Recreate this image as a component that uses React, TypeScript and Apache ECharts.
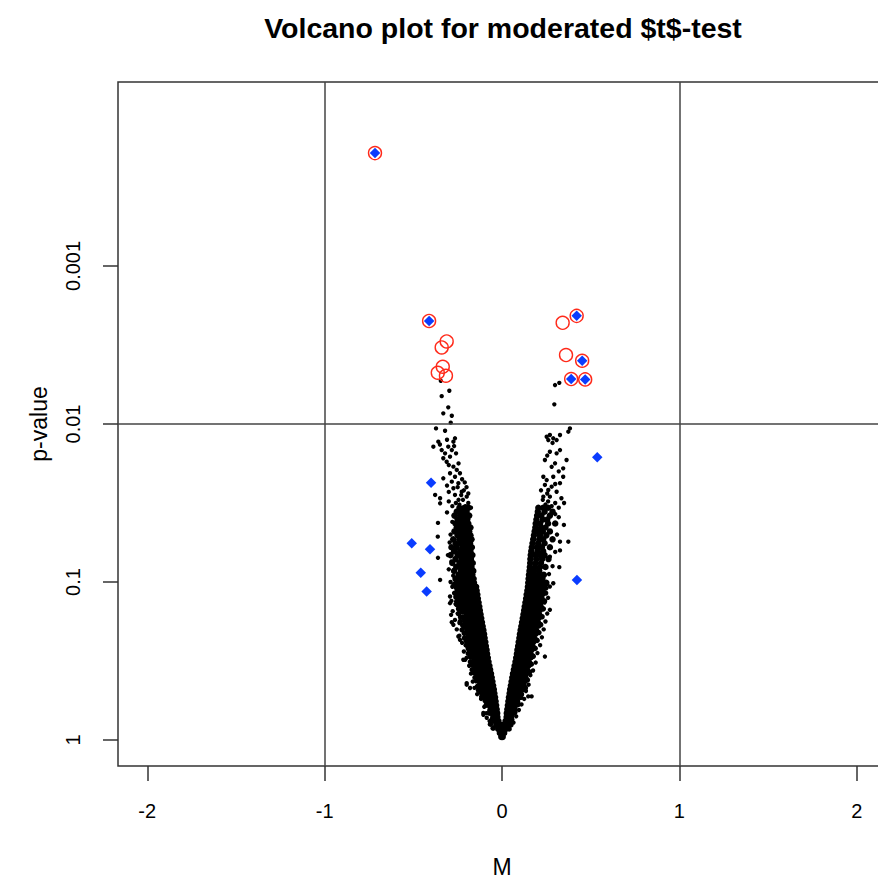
import React, { useEffect, useRef } from "react";
import * as echarts from "echarts";

const FONT = "'Liberation Sans', Arial, Helvetica, sans-serif";

// axis ticks (y values are -log10(p))
const xTickValues = [-2, -1, 0, 1, 2];
const yTickValues = [0, 1, 2, 3];
const yTickLabels = ["1", "0.1", "0.01", "0.001"];
const mCutoffs = [-1, 1];
const negLogPCutoffs = [2];

// dense core of the volcano: [ -log10(p), [M values at that level] ]
const coreRows: [number, number[]][] = [
  [0.02, [-0.004, 0.004]],
  [0.045, [-0.012, 0, 0.012]],
  [0.07, [-0.021, -0.007, 0.007, 0.021]],
  [0.095, [-0.032, -0.016, 0, 0.016, 0.032]],
  [0.12, [-0.041, -0.02, 0.02, 0.041]],
  [0.145, [-0.049, -0.026, 0.026, 0.05]],
  [0.17, [-0.056, -0.041, -0.027, 0.027, 0.043, 0.059]],
  [0.195, [-0.064, -0.047, -0.03, 0.03, 0.049, 0.068]],
  [0.22, [-0.071, -0.052, -0.033, 0.033, 0.054, 0.076]],
  [0.245, [-0.078, -0.057, -0.036, 0.036, 0.059, 0.082]],
  [0.27, [-0.084, -0.069, -0.054, -0.039, 0.039, 0.056, 0.072, 0.089]],
  [0.295, [-0.091, -0.075, -0.059, -0.043, 0.043, 0.061, 0.078, 0.096]],
  [0.32, [-0.098, -0.081, -0.063, -0.046, 0.046, 0.065, 0.084, 0.103]],
  [0.345, [-0.103, -0.085, -0.068, -0.05, 0.05, 0.069, 0.089, 0.108]],
  [0.37, [-0.108, -0.09, -0.072, -0.054, 0.054, 0.073, 0.093, 0.112]],
  [0.395, [-0.113, -0.095, -0.076, -0.058, 0.058, 0.077, 0.097, 0.116]],
  [0.42, [-0.118, -0.099, -0.081, -0.062, 0.062, 0.082, 0.101, 0.121]],
  [0.445, [-0.123, -0.104, -0.086, -0.067, 0.067, 0.087, 0.106, 0.126]],
  [0.47, [-0.128, -0.109, -0.09, -0.071, 0.071, 0.091, 0.111, 0.131]],
  [0.495, [-0.133, -0.114, -0.095, -0.076, 0.076, 0.096, 0.116, 0.136]],
  [0.52, [-0.138, -0.119, -0.099, -0.08, 0.08, 0.1, 0.121, 0.141]],
  [0.545, [-0.143, -0.123, -0.104, -0.084, 0.084, 0.105, 0.125, 0.146]],
  [0.57, [-0.149, -0.128, -0.108, -0.087, 0.087, 0.108, 0.13, 0.151]],
  [0.595, [-0.154, -0.133, -0.112, -0.091, 0.091, 0.112, 0.134, 0.155]],
  [0.62, [-0.159, -0.137, -0.116, -0.094, 0.094, 0.116, 0.138, 0.16]],
  [0.645, [-0.164, -0.142, -0.12, -0.098, 0.098, 0.12, 0.143, 0.165]],
  [0.67, [-0.17, -0.147, -0.124, -0.101, 0.101, 0.124, 0.147, 0.17]],
  [0.695, [-0.176, -0.152, -0.128, -0.105, 0.105, 0.128, 0.152, 0.175]],
  [0.72, [-0.181, -0.157, -0.133, -0.109, 0.109, 0.133, 0.157, 0.181]],
  [0.745, [-0.187, -0.162, -0.138, -0.113, 0.113, 0.137, 0.162, 0.186]],
  [0.77, [-0.192, -0.167, -0.142, -0.117, 0.117, 0.14, 0.164, 0.188]],
  [0.795, [-0.198, -0.178, -0.159, -0.14, -0.121, 0.121, 0.145, 0.168, 0.192]],
  [0.82, [-0.204, -0.184, -0.164, -0.145, -0.125, 0.125, 0.148, 0.172, 0.195]],
  [0.845, [-0.209, -0.189, -0.168, -0.148, -0.128, 0.128, 0.152, 0.175, 0.199]],
  [0.87, [-0.215, -0.194, -0.173, -0.153, -0.132, 0.132, 0.156, 0.179, 0.203]],
  [0.895, [-0.221, -0.2, -0.178, -0.157, -0.136, 0.136, 0.159, 0.183, 0.206]],
  [0.92, [-0.226, -0.205, -0.183, -0.161, -0.139, 0.139, 0.163, 0.186, 0.21]],
  [0.945, [-0.232, -0.21, -0.187, -0.165, -0.143, 0.143, 0.166, 0.19, 0.213]],
  [0.97, [-0.238, -0.215, -0.192, -0.169, -0.146, 0.146, 0.169, 0.193, 0.216]],
  [0.995, [-0.255, -0.228, -0.204, -0.18, -0.158, 0.148, 0.172, 0.197, 0.222, 0.25]],
  [1.02, [-0.262, -0.236, -0.21, -0.185, -0.16, 0.15, 0.175, 0.2, 0.228]],
  [1.045, [-0.245, -0.22, -0.193, -0.167, 0.152, 0.178, 0.205, 0.236]],
  [1.07, [-0.27, -0.232, -0.206, -0.18, -0.162, 0.155, 0.181, 0.21]],
  [1.095, [-0.258, -0.225, -0.198, -0.172, 0.157, 0.186, 0.214, 0.245]],
  [1.12, [-0.28, -0.24, -0.214, -0.186, -0.165, 0.159, 0.19, 0.22]],
  [1.145, [-0.262, -0.228, -0.2, -0.175, 0.16, 0.193, 0.226, 0.262]],
  [1.17, [-0.29, -0.25, -0.22, -0.192, -0.167, 0.162, 0.188, 0.216, 0.24]],
  [1.195, [-0.27, -0.236, -0.208, -0.178, 0.165, 0.2, 0.232]],
  [1.22, [-0.285, -0.255, -0.222, -0.195, -0.17, 0.168, 0.196, 0.225, 0.27]],
  [1.245, [-0.262, -0.232, -0.205, -0.18, 0.172, 0.204, 0.24]],
  [1.27, [-0.275, -0.24, -0.215, -0.19, -0.172, 0.176, 0.21, 0.232, 0.285]],
  [1.295, [-0.25, -0.226, -0.2, -0.178, 0.18, 0.214, 0.25]],
  [1.32, [-0.268, -0.238, -0.21, -0.185, 0.184, 0.205, 0.23, 0.27]],
  [1.345, [-0.255, -0.228, -0.2, -0.178, 0.188, 0.22, 0.245]],
  [1.37, [-0.262, -0.24, -0.215, -0.19, 0.19, 0.215, 0.26, 0.3]],
  [1.395, [-0.25, -0.222, -0.196, 0.194, 0.23, 0.255]],
  [1.42, [-0.268, -0.236, -0.21, -0.185, 0.198, 0.222, 0.27]],
  [1.445, [-0.255, -0.225, -0.2, 0.202, 0.24, 0.285]],
  [1.47, [-0.24, -0.212, -0.188, 0.205, 0.232, 0.26]],
];

// outer, more ragged side of the two arms [M, -log10(p)]
const shoulderLeft: [number, number][] = [
  [-0.065, 0.1], [-0.05, 0.075], [-0.055, 0.13], [-0.072, 0.17], [-0.068, 0.185],
  [-0.089, 0.22], [-0.085, 0.235], [-0.095, 0.25],
  [-0.1, 0.27], [-0.114, 0.275], [-0.104, 0.29], [-0.118, 0.3],
  [-0.115, 0.32], [-0.132, 0.315], [-0.12, 0.335], [-0.138, 0.34], [-0.122, 0.355],
  [-0.126, 0.37], [-0.145, 0.375], [-0.13, 0.39], [-0.152, 0.395], [-0.136, 0.41],
  [-0.137, 0.42], [-0.156, 0.425], [-0.142, 0.44], [-0.168, 0.445], [-0.148, 0.46],
  [-0.147, 0.47], [-0.166, 0.475], [-0.152, 0.49], [-0.178, 0.495], [-0.158, 0.51],
  [-0.157, 0.52], [-0.178, 0.525], [-0.162, 0.54], [-0.19, 0.548], [-0.168, 0.56],
  [-0.168, 0.57], [-0.19, 0.578], [-0.173, 0.59], [-0.2, 0.6], [-0.18, 0.608],
  [-0.178, 0.62], [-0.2, 0.625], [-0.184, 0.64], [-0.212, 0.645], [-0.19, 0.658],
  [-0.19, 0.67], [-0.212, 0.675], [-0.196, 0.69], [-0.225, 0.697], [-0.2, 0.708],
  [-0.2, 0.72], [-0.222, 0.727], [-0.206, 0.742], [-0.235, 0.75], [-0.21, 0.76],
  [-0.212, 0.77], [-0.234, 0.778], [-0.244, 0.8], [-0.22, 0.81],
  [-0.224, 0.82], [-0.245, 0.83], [-0.228, 0.845], [-0.252, 0.855],
  [-0.235, 0.87], [-0.255, 0.878], [-0.24, 0.893], [-0.26, 0.905],
  [-0.246, 0.92], [-0.265, 0.93], [-0.25, 0.945], [-0.257, 0.965], [-0.27, 0.985],
];

const shoulderRight: [number, number][] = [
  [0.05, 0.095], [0.04, 0.07], [0.055, 0.13], [0.072, 0.175], [0.092, 0.225], [0.088, 0.245],
  [0.106, 0.27], [0.11, 0.29], [0.12, 0.32], [0.132, 0.33], [0.124, 0.345],
  [0.129, 0.37], [0.143, 0.38], [0.134, 0.395], [0.139, 0.42], [0.155, 0.43], [0.144, 0.445],
  [0.149, 0.47], [0.165, 0.48], [0.154, 0.495], [0.159, 0.52], [0.176, 0.53], [0.164, 0.545],
  [0.169, 0.57], [0.187, 0.58], [0.174, 0.595], [0.179, 0.62], [0.198, 0.63], [0.185, 0.645],
  [0.19, 0.67], [0.208, 0.68], [0.195, 0.695], [0.2, 0.72], [0.218, 0.73], [0.205, 0.745],
  [0.208, 0.77], [0.226, 0.78], [0.212, 0.795], [0.215, 0.82], [0.233, 0.83], [0.219, 0.845],
  [0.222, 0.87], [0.24, 0.88], [0.226, 0.895], [0.229, 0.92], [0.246, 0.93], [0.232, 0.945],
  [0.235, 0.97], [0.25, 0.985],
];

// sparse genes [M, -log10(p)]
const upperLeft: [number, number][] = [
  [-0.345, 2.273], [-0.34, 2.176], [-0.297, 2.21], [-0.303, 2.105], [-0.331, 2.067],
  [-0.283, 2.052], [-0.289, 2.008], [-0.372, 1.972], [-0.321, 1.957],
  [-0.387, 1.856], [-0.359, 1.888], [-0.34, 1.835], [-0.321, 1.814], [-0.303, 1.856],
  [-0.274, 1.888], [-0.265, 1.909], [-0.283, 1.835], [-0.293, 1.793], [-0.331, 1.783],
  [-0.312, 1.761], [-0.259, 1.814], [-0.35, 1.87], [-0.31, 1.9], [-0.27, 1.86],
  [-0.274, 1.73], [-0.255, 1.709], [-0.293, 1.688], [-0.331, 1.656], [-0.265, 1.666],
  [-0.237, 1.688], [-0.283, 1.635], [-0.246, 1.625], [-0.274, 1.593], [-0.227, 1.571],
  [-0.265, 1.551], [-0.199, 1.54], [-0.377, 1.551], [-0.349, 1.53], [-0.3, 1.74],
  [-0.245, 1.75], [-0.31, 1.61], [-0.225, 1.65], [-0.3, 1.57],
  [-0.349, 1.498], [-0.3, 1.51], [-0.26, 1.5], [-0.22, 1.52], [-0.24, 1.49], [-0.205, 1.48],
  [-0.28, 1.48], [-0.2, 1.6], [-0.215, 1.58], [-0.19, 1.56], [-0.23, 1.55], [-0.25, 1.6],
  [-0.21, 1.63], [-0.245, 1.52], [-0.19, 1.5], [-0.175, 1.47],
];

const upperRight: [number, number][] = [
  [0.299, 2.246], [0.323, 2.26], [0.295, 2.124], [0.383, 1.972], [0.374, 1.951],
  [0.252, 1.919], [0.27, 1.93], [0.289, 1.909], [0.261, 1.898], [0.327, 1.93], [0.308, 1.898],
  [0.27, 1.824], [0.327, 1.835], [0.308, 1.814], [0.242, 1.772], [0.299, 1.751], [0.364, 1.772],
  [0.28, 1.729], [0.345, 1.719], [0.285, 1.88], [0.255, 1.8], [0.32, 1.7],
  [0.233, 1.666], [0.252, 1.645], [0.289, 1.666], [0.345, 1.666], [0.242, 1.614], [0.28, 1.603],
  [0.327, 1.625], [0.261, 1.582], [0.308, 1.571], [0.233, 1.54], [0.27, 1.54], [0.3, 1.62],
  [0.23, 1.52], [0.26, 1.51], [0.3, 1.5], [0.335, 1.53], [0.245, 1.49], [0.28, 1.48],
  [0.32, 1.47], [0.35, 1.5], [0.22, 1.58], [0.255, 1.56],
];

const leftFringe: [number, number][] = [
  [-0.361, 1.374], [-0.362, 1.287], [-0.361, 1.153], [-0.349, 1.013], [-0.293, 0.908],
  [-0.287, 0.792], [-0.274, 0.729], [-0.237, 0.634], [-0.208, 0.507], [-0.199, 0.35],
  [-0.18, 0.329], [-0.105, 0.16], [-0.086, 0.141], [-0.293, 0.866], [-0.283, 0.745],
  [-0.246, 0.655], [-0.218, 0.508], [-0.199, 0.36], [-0.105, 0.171],
  [-0.07, 0.12], [-0.088, 0.17], [-0.1, 0.21], [-0.118, 0.26], [-0.14, 0.29], [-0.155, 0.33],
  [-0.128, 0.355], [-0.165, 0.37], [-0.14, 0.4], [-0.175, 0.42], [-0.152, 0.445],
  [-0.185, 0.47], [-0.16, 0.49], [-0.2, 0.52], [-0.172, 0.535], [-0.215, 0.56], [-0.18, 0.575],
  [-0.205, 0.6], [-0.225, 0.615], [-0.19, 0.64], [-0.24, 0.66], [-0.205, 0.68], [-0.255, 0.7],
  [-0.215, 0.72], [-0.24, 0.74], [-0.265, 0.76], [-0.222, 0.78], [-0.25, 0.8], [-0.278, 0.815],
  [-0.232, 0.84], [-0.262, 0.86], [-0.285, 0.88], [-0.245, 0.9], [-0.27, 0.93], [-0.255, 0.955],
  [-0.28, 0.97], [-0.29, 1.0], [-0.275, 1.04], [-0.3, 1.08], [-0.285, 1.13], [-0.305, 1.17],
  [-0.295, 1.25], [-0.29, 1.3], [-0.28, 1.38], [-0.31, 1.44],
];

const rightFringe: [number, number][] = [
  [0.065, 0.11], [0.08, 0.15], [0.095, 0.19], [0.11, 0.225], [0.125, 0.26], [0.148, 0.276],
  [0.167, 0.276], [0.135, 0.31], [0.15, 0.35], [0.14, 0.38], [0.16, 0.41], [0.175, 0.44],
  [0.155, 0.47], [0.19, 0.49], [0.168, 0.52], [0.242, 0.528], [0.2, 0.55], [0.18, 0.58],
  [0.215, 0.6], [0.19, 0.63], [0.225, 0.65], [0.2, 0.68], [0.235, 0.7], [0.21, 0.72],
  [0.245, 0.75], [0.215, 0.78], [0.255, 0.8], [0.27, 0.824], [0.225, 0.84], [0.24, 0.87],
  [0.26, 0.9], [0.235, 0.93], [0.289, 0.992], [0.27, 0.971], [0.25, 0.96], [0.265, 1.05],
  [0.285, 1.1], [0.27, 1.16], [0.3, 1.19], [0.327, 1.2], [0.323, 1.094], [0.327, 1.255],
  [0.374, 1.255], [0.31, 1.3], [0.349, 1.361], [0.32, 1.41], [0.3, 1.43],
];

// highlighted genes
const flaggedBoth: [number, number][] = [
  [-0.716, 3.714], [-0.411, 2.652], [0.421, 2.684], [0.452, 2.4], [0.39, 2.284], [0.469, 2.282],
];
const redOnly: [number, number][] = [
  [-0.312, 2.522], [-0.34, 2.484], [-0.334, 2.362], [-0.362, 2.324], [-0.316, 2.305],
  [0.342, 2.64], [0.361, 2.436],
];
const blueOnly: [number, number][] = [
  [0.537, 1.789], [-0.4, 1.628], [-0.509, 1.245], [-0.406, 1.207], [-0.458, 1.058],
  [-0.425, 0.939], [0.4225, 1.013],
];

export default function App() {
  const ref = useRef<HTMLDivElement>(null);
  useEffect(() => {
    if (!ref.current) return;
    const chart = echarts.init(ref.current, null, { renderer: "svg" });
    const core = coreRows.flatMap(([l, ms]) => ms.map((m) => [m, l]));
    const shoulder = [...shoulderLeft, ...shoulderRight];
    const sparse = [...upperLeft, ...upperRight, ...leftFringe, ...rightFringe];
    const axisLineColor = "#333";
    const blackSeries = (name: string, data: number[][], size: number) => ({
      type: "scatter",
      name,
      data,
      symbol: "circle",
      symbolSize: size,
      itemStyle: { color: "#000", opacity: 1 },
      silent: true,
      emphasis: { disabled: true },
      z: 2,
    });
    chart.setOption({
      animation: false,
      backgroundColor: "#ffffff",
      textStyle: { fontFamily: FONT },
      title: {
        text: "Volcano plot for moderated $t$-test",
        left: 498,
        top: 8,
        textAlign: "center",
        textStyle: { fontFamily: FONT, fontSize: 28.5, fontWeight: "bold", color: "#000" },
      },
      grid: {
        left: 118,
        top: 82,
        width: 768,
        height: 684,
        show: true,
        containLabel: false,
        outerBoundsMode: "none",
        borderColor: axisLineColor,
        borderWidth: 1.5,
        backgroundColor: "transparent",
      },
      xAxis: {
        type: "value",
        min: -2.165,
        max: 2.165,
        name: "M",
        nameLocation: "middle",
        nameGap: 89,
        nameTextStyle: { fontFamily: FONT, fontSize: 23, color: "#000" },
        axisLine: { show: false, onZero: false },
        splitLine: { show: false },
        axisTick: {
          show: true,
          inside: false,
          length: 15,
          customValues: xTickValues,
          lineStyle: { color: axisLineColor, width: 1.5 },
        },
        axisLabel: {
          customValues: xTickValues,
          fontFamily: FONT,
          fontSize: 20,
          color: "#000",
          margin: 35,
          formatter: (v: number) => String(v),
        },
      },
      yAxis: {
        type: "value",
        min: -0.1645,
        max: 4.164,
        name: "p-value",
        nameLocation: "middle",
        nameGap: 68,
        nameTextStyle: { fontFamily: FONT, fontSize: 23, color: "#000" },
        axisLine: { show: false, onZero: false },
        splitLine: { show: false },
        axisTick: {
          show: true,
          inside: false,
          length: 15,
          customValues: yTickValues,
          lineStyle: { color: axisLineColor, width: 1.5 },
        },
        axisLabel: {
          customValues: yTickValues,
          rotate: 90,
          fontFamily: FONT,
          fontSize: 20,
          color: "#000",
          margin: 35,
          formatter: (v: number) => {
            const i = yTickValues.indexOf(v);
            return i >= 0 ? yTickLabels[i] : "";
          },
        },
      },
      series: [
        blackSeries("core", core, 6.5),
        blackSeries("shoulder", shoulder, 5.5),
        {
          ...blackSeries("genes", sparse, 4.4),
          markLine: {
            silent: true,
            symbol: ["none", "none"],
            label: { show: false },
            lineStyle: { color: "#444", width: 1.5, type: "solid", opacity: 1 },
            data: [
              ...mCutoffs.map((v) => ({ xAxis: v })),
              ...negLogPCutoffs.map((v) => ({ yAxis: v })),
            ],
          },
        },
        {
          type: "scatter",
          name: "red",
          data: [...flaggedBoth, ...redOnly],
          symbol: "circle",
          symbolSize: 13,
          itemStyle: { color: "transparent", borderColor: "#ff2a1a", borderWidth: 1.4, opacity: 1 },
          silent: true,
          emphasis: { disabled: true },
          z: 3,
        },
        {
          type: "scatter",
          name: "blue",
          data: [...flaggedBoth, ...blueOnly],
          symbol: "diamond",
          symbolSize: 10.5,
          itemStyle: { color: "#0a3cff", opacity: 1 },
          silent: true,
          emphasis: { disabled: true },
          z: 4,
        },
      ],
    });
    return () => chart.dispose();
  }, []);
  return (
    <div
      ref={ref}
      style={{ position: "fixed", left: 0, top: 0, width: 878, height: 879, background: "#fff" }}
    />
  );
}
